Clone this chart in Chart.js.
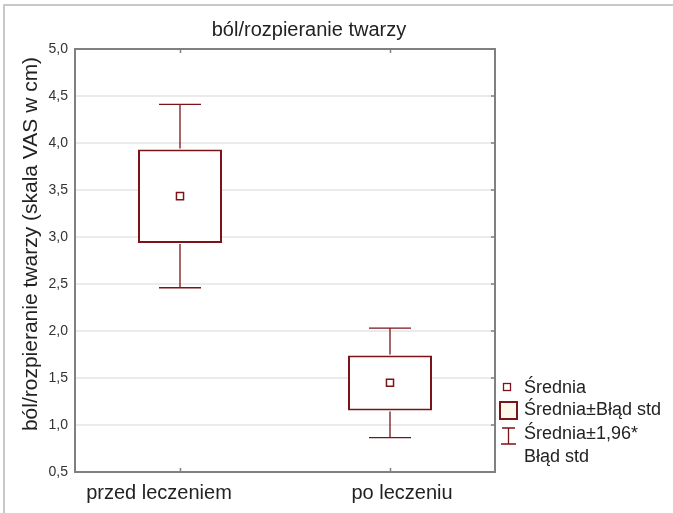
<!DOCTYPE html>
<html lang="pl">
<head>
  <meta charset="UTF-8">
  <title>ból/rozpieranie twarzy</title>
  <script src="https://cdn.jsdelivr.net/npm/chart.js"></script>
  <style>
    body { margin: 0; background: #fff; }
    #wrap { width: 673px; height: 513px; position: relative; }
  </style>
</head>
<body>
  <div id="wrap"><canvas id="chart" width="673" height="513"></canvas></div>
  <script>
    // values
    const categories = ['przed leczeniem', 'po leczeniu'];
    const means  = [3.435, 1.45];
    const seLow  = [2.935, 1.155];   // Średnia - Błąd std
    const seHigh = [3.93, 1.74];     // Średnia + Błąd std
    const ciLow  = [2.46, 0.865];    // Średnia - 1,96*Błąd std
    const ciHigh = [4.41, 2.03];     // Średnia + 1,96*Błąd std
    const yTicks = [0.5, 1.0, 1.5, 2.0, 2.5, 3.0, 3.5, 4.0, 4.5, 5.0];

    const RED = '#7b1418';
    const FONT = '"Liberation Sans", Arial, sans-serif';
    const labelShift = [-21, 12]; // x labels are not centred on the boxes in the original

    const decor = {
      id: 'decor',
      beforeDraw(chart) {
        const c = chart.ctx;
        c.save();
        c.fillStyle = '#fff';
        c.fillRect(0, 0, chart.width, chart.height);
        // outer frame
        c.strokeStyle = '#c8c8c8';
        c.lineWidth = 2;
        c.beginPath();
        c.moveTo(4, chart.height);
        c.lineTo(4, 5);
        c.lineTo(chart.width, 5);
        c.stroke();
        c.restore();
      },
      afterDatasetsDraw(chart) {
        const c = chart.ctx;
        const x = chart.scales.x, y = chart.scales.y;
        const cap = x.width / categories.length * 0.2;
        c.save();
        c.strokeStyle = RED;
        c.lineWidth = 1.3;
        categories.forEach((_, i) => {
          const px = x.getPixelForValue(i);
          c.beginPath();
          c.moveTo(px, y.getPixelForValue(ciHigh[i]));
          c.lineTo(px, y.getPixelForValue(seHigh[i]) - 1);
          c.moveTo(px, y.getPixelForValue(seLow[i]) + 1);
          c.lineTo(px, y.getPixelForValue(ciLow[i]));
          c.moveTo(px - cap / 2, y.getPixelForValue(ciHigh[i]));
          c.lineTo(px + cap / 2, y.getPixelForValue(ciHigh[i]));
          c.moveTo(px - cap / 2, y.getPixelForValue(ciLow[i]));
          c.lineTo(px + cap / 2, y.getPixelForValue(ciLow[i]));
          c.stroke();
        });
        c.restore();
      },
      afterDraw(chart) {
        const c = chart.ctx;
        const a = chart.chartArea;
        const x = chart.scales.x, y = chart.scales.y;
        c.save();
        // frame round the plot
        c.strokeStyle = '#808080';
        c.lineWidth = 2;
        c.strokeRect(a.left, a.top, a.right - a.left, a.bottom - a.top);
        // small tick marks
        c.lineWidth = 1.5;
        c.beginPath();
        categories.forEach((_, i) => {
          const px = Math.round(x.getPixelForValue(i)) + 0.5;
          c.moveTo(px, a.top); c.lineTo(px, a.top + 4);
          c.moveTo(px, a.bottom); c.lineTo(px, a.bottom - 4);
        });
        yTicks.forEach(v => {
          const py = y.getPixelForValue(v);
          c.moveTo(a.right, py); c.lineTo(a.right - 4, py);
        });
        c.stroke();

        // title
        c.fillStyle = '#222';
        c.font = '20px ' + FONT;
        c.textAlign = 'center';
        c.textBaseline = 'middle';
        c.fillText('ból/rozpieranie twarzy', 309, 30);

        // y axis title
        c.save();
        c.translate(31, 244);
        c.rotate(-Math.PI / 2);
        c.font = '21px ' + FONT;
        c.fillText('ból/rozpieranie twarzy (skala VAS w cm)', 0, 0);
        c.restore();

        // category labels
        c.font = '20px ' + FONT;
        categories.forEach((lab, i) => {
          c.fillText(lab, x.getPixelForValue(i) + labelShift[i], a.bottom + 21);
        });

        // legend
        const lx = a.right + 5;
        c.textAlign = 'left';
        c.font = '18px ' + FONT;
        c.fillStyle = '#fff';
        c.strokeStyle = RED;
        c.lineWidth = 1.3;
        c.fillRect(lx + 3.5, 383.5, 7, 7);
        c.strokeRect(lx + 3.5, 383.5, 7, 7);
        c.fillStyle = '#fdf8ea';
        c.lineWidth = 2;
        c.fillRect(lx, 402, 17, 17);
        c.strokeRect(lx, 402, 17, 17);
        c.lineWidth = 1.3;
        c.beginPath();
        c.moveTo(lx + 8.5, 428); c.lineTo(lx + 8.5, 444);
        c.moveTo(lx + 2, 428); c.lineTo(lx + 15, 428);
        c.moveTo(lx + 1, 444); c.lineTo(lx + 16, 444);
        c.stroke();
        c.fillStyle = '#222';
        c.fillText('Średnia', lx + 24, 388);
        c.fillText('Średnia±Błąd std', lx + 24, 410);
        c.fillText('Średnia±1,96*', lx + 24, 434);
        c.fillText('Błąd std', lx + 24, 457);
        c.restore();
      }
    };

    new Chart(document.getElementById('chart'), {
      type: 'bar',
      data: {
        labels: categories,
        datasets: [
          {
            type: 'line',
            label: 'Średnia',
            data: means,
            showLine: false,
            pointStyle: 'rect',
            pointRadius: 5,
            pointBorderWidth: 1.5,
            pointBackgroundColor: '#fff',
            pointBorderColor: RED,
            order: 0
          },
          {
            label: 'Średnia±Błąd std',
            data: categories.map((_, i) => [seLow[i], seHigh[i]]),
            backgroundColor: '#fff',
            borderColor: RED,
            borderWidth: 2,
            borderSkipped: false,
            categoryPercentage: 1,
            barPercentage: 0.4,
            order: 1
          }
        ]
      },
      options: {
        responsive: false,
        animation: false,
        layout: { padding: { left: 0, top: 49, right: 178, bottom: 0 } },
        plugins: {
          legend: { display: false },
          tooltip: { enabled: false }
        },
        scales: {
          x: {
            grid: { display: false },
            border: { display: true, color: '#808080', width: 2 },
            ticks: { display: false },
            afterFit(axis) { axis.height = 41; }
          },
          y: {
            min: 0.5,
            max: 5,
            afterBuildTicks(axis) { axis.ticks = yTicks.map(v => ({ value: v })); },
            afterFit(axis) { axis.width = 75; },
            ticks: {
              padding: 7,
              color: '#333',
              font: { family: FONT, size: 14 },
              callback: v => v.toFixed(1).replace('.', ',')
            },
            grid: { color: '#ebebeb', lineWidth: 2, drawTicks: false },
            border: { display: true, color: '#808080', width: 2 }
          }
        }
      },
      plugins: [decor]
    });
  </script>
</body>
</html>
